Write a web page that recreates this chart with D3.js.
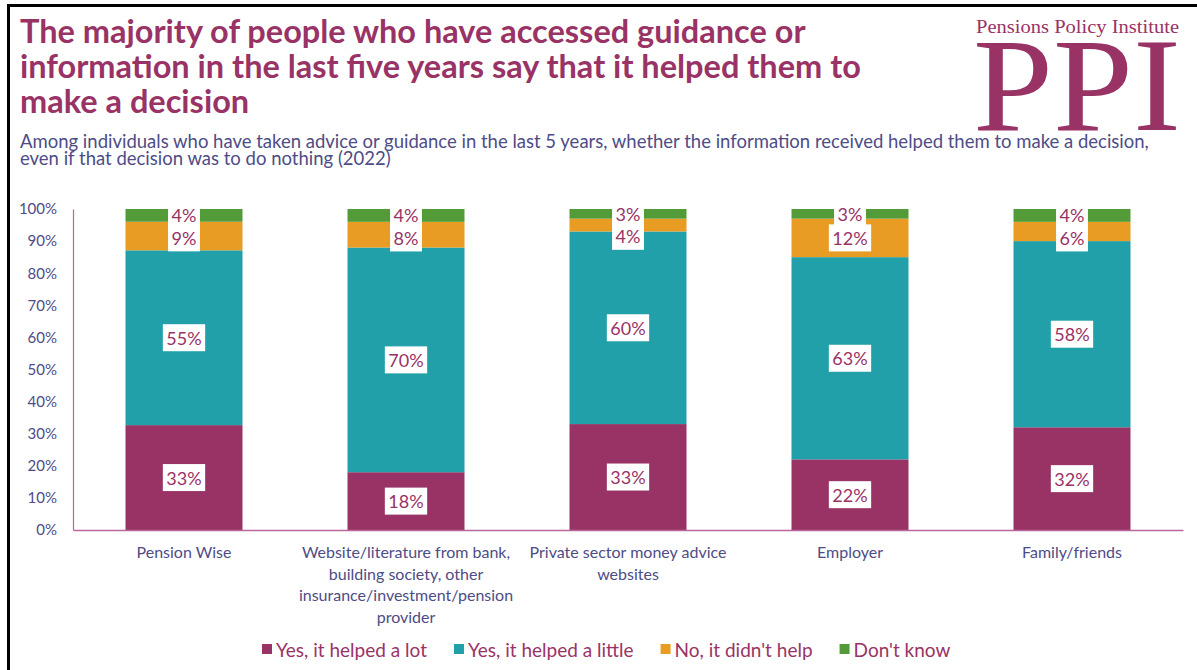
<!DOCTYPE html>
<html>
<head>
<meta charset="utf-8">
<script src="https://cdn.jsdelivr.net/npm/d3@7"></script>
<style>
  body { margin: 0; background: #fff; }
  svg { display: block; }
  text { font-family: Lato, "Open Sans", sans-serif; }
</style>
</head>
<body>
<svg id="chart" width="1197" height="670"></svg>
<script>
// Sources of guidance (x categories) and the wrapped tick labels drawn under each bar
const categories = [
  "Pension Wise",
  "Website/literature from bank, building society, other insurance/investment/pension provider",
  "Private sector money advice websites",
  "Employer",
  "Family/friends"
];
const tickLabelLines = [
  ["Pension Wise"],
  ["Website/literature from bank,", "building society, other", "insurance/investment/pension", "provider"],
  ["Private sector money advice", "websites"],
  ["Employer"],
  ["Family/friends"]
];

// Response series, percent of respondents
const seriesNames = ["Yes, it helped a lot", "Yes, it helped a little", "No, it didn't help", "Don't know"];
const helpedALot    = [33, 18, 33, 22, 32];
const helpedALittle = [55, 70, 60, 63, 58];
const didntHelp     = [9, 8, 4, 12, 6];
const dontKnow      = [4, 4, 3, 3, 4];

const yTickValues = [0, 0.1, 0.2, 0.3, 0.4, 0.5, 0.6, 0.7, 0.8, 0.9, 1];

const seriesColors = ["#993366", "#21A0AA", "#E89C23", "#529B38"];
const titleColor = "#993366";
const textColor = "#4E4C86";
const axisColor = "#B9689A";

const svg = d3.select("#chart");

// Frame lines
svg.append("rect").attr("x", 7).attr("y", 4).attr("width", 1190).attr("height", 3).attr("fill", "#000");
svg.append("rect").attr("x", 7).attr("y", 4).attr("width", 3).attr("height", 666).attr("fill", "#000");

// Title
const titleLines = [
  "The majority of people who have accessed guidance or",
  "information in the last five years say that it helped them to",
  "make a decision"
];
svg.append("g").selectAll("text").data(titleLines).join("text")
  .attr("x", 20).attr("y", (d, i) => 43 + i * 35)
  .attr("fill", titleColor).attr("font-size", 32.5).attr("font-weight", 700)
  .text(d => d);

// Subtitle
const subtitleLines = [
  "Among individuals who have taken advice or guidance in the last 5 years, whether the information received helped them to make a decision,",
  "even if that decision was to do nothing (2022)"
];
svg.append("g").selectAll("text").data(subtitleLines).join("text")
  .attr("x", 20).attr("y", (d, i) => 148 + i * 17)
  .attr("fill", textColor).attr("font-size", 18.5)
  .text(d => d);

// Logo
svg.append("text").attr("x", 976).attr("y", 33)
  .attr("fill", "#993366").attr("font-size", 18)
  .style("font-family", "'Liberation Serif', 'DejaVu Serif', serif")
  .attr("textLength", 203).attr("lengthAdjust", "spacingAndGlyphs")
  .text("Pensions Policy Institute");
svg.append("text").attr("x", 973).attr("y", 130)
  .attr("fill", "#993366").attr("font-size", 133)
  .style("font-family", "'Liberation Serif', 'DejaVu Serif', serif")
  .attr("textLength", 208).attr("lengthAdjust", "spacingAndGlyphs")
  .text("PPI");

// Scales
const x = d3.scaleBand().domain(categories).range([73, 1183])
  .paddingInner(0.473).paddingOuter(0.2365);
const y = d3.scaleLinear().domain([0, 1]).range([530, 209]);

// 100% stacked layout
const seriesValues = [helpedALot, helpedALittle, didntHelp, dontKnow];
const rows = categories.map((c, i) => {
  const row = { category: c };
  seriesNames.forEach((s, si) => { row[s] = seriesValues[si][i]; });
  return row;
});
const stacked = d3.stack().keys(seriesNames).offset(d3.stackOffsetExpand)(rows);

// Bars
svg.append("g").selectAll("g").data(stacked).join("g")
  .attr("fill", (d, i) => seriesColors[i])
  .selectAll("rect").data(d => d).join("rect")
    .attr("x", d => x(d.data.category))
    .attr("width", x.bandwidth())
    .attr("y", d => y(d[1]))
    .attr("height", d => y(d[0]) - y(d[1]));

// Axes
const yAxis = svg.append("g").attr("transform", "translate(73,0)")
  .call(d3.axisLeft(y).tickValues(yTickValues).tickFormat(d3.format(".0%")).tickSize(0).tickPadding(16));
yAxis.select(".domain").attr("stroke", axisColor).attr("stroke-width", 1.2);
yAxis.selectAll("text").attr("fill", textColor).attr("font-size", 15).style("font-family", "Lato, sans-serif");

const xAxis = svg.append("g").attr("transform", "translate(0,530)")
  .call(d3.axisBottom(x).tickSize(0).tickFormat(""));
xAxis.select(".domain").attr("stroke", axisColor).attr("stroke-width", 1.5);
xAxis.selectAll(".tick").each(function (d, i) {
  const t = d3.select(this).select("text")
    .attr("fill", textColor).attr("font-size", 16).style("font-family", "Lato, sans-serif")
    .attr("y", 28).attr("dy", null);
  t.selectAll("tspan").data(tickLabelLines[i]).join("tspan")
    .attr("x", 0).attr("dy", (l, j) => j === 0 ? 0 : 21.5)
    .text(l => l);
});

// Data labels, centred in each segment; within a bar, labels are walked from the
// top down and nudged below the one above when they would collide.
const minLabelGap = 22.5;
const labelData = [];
categories.forEach((c, ci) => {
  let prevCy = -Infinity;
  for (let si = stacked.length - 1; si >= 0; si--) {
    const d = stacked[si][ci];
    const centre = (y(d[0]) + y(d[1])) / 2;
    const cy = Math.max(centre, prevCy + minLabelGap);
    prevCy = cy;
    labelData.push({
      cx: x(c) + x.bandwidth() / 2,
      cy: cy,
      text: seriesValues[si][ci] + "%"
    });
  }
});
const labelLayer = svg.append("g");
const labelTexts = labelLayer.append("g").selectAll("text").data(labelData).join("text")
  .attr("x", d => d.cx).attr("y", d => d.cy)
  .attr("text-anchor", "middle").attr("dominant-baseline", "central")
  .attr("fill", "#993366").attr("font-size", 18)
  .text(d => d.text);
labelTexts.each(function (d) { d.w = this.getComputedTextLength(); });
labelLayer.insert("g", ":first-child").selectAll("rect").data(labelData).join("rect")
  .attr("x", d => d.cx - d.w / 2 - 3.5).attr("y", d => d.cy - 13.5)
  .attr("width", d => d.w + 7).attr("height", 27)
  .attr("fill", "#fff");

// Legend
const legend = svg.append("g").attr("transform", "translate(262,649)");
let lx = 0;
seriesNames.forEach((name, i) => {
  const g = legend.append("g").attr("transform", `translate(${lx},0)`);
  g.append("rect").attr("x", 0).attr("y", -5).attr("width", 10).attr("height", 10).attr("fill", seriesColors[i]);
  const t = g.append("text").attr("x", 14).attr("y", 0).attr("dominant-baseline", "central")
    .attr("fill", "#993366").attr("font-size", 19).text(name);
  lx += 14 + t.node().getComputedTextLength() + 27;
});
</script>
</body>
</html>
